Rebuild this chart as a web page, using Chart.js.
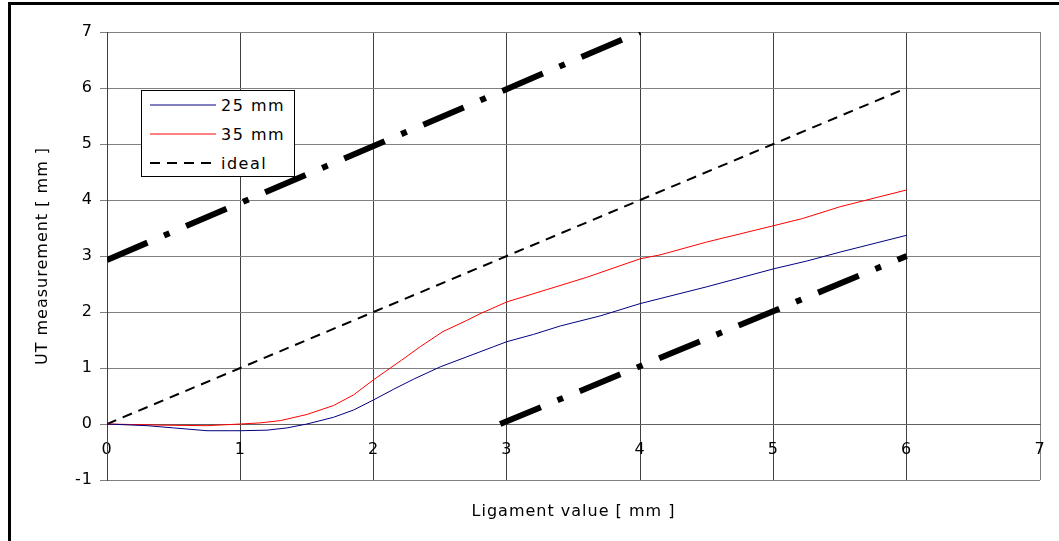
<!DOCTYPE html>
<html>
<head>
<meta charset="utf-8">
<script src="https://cdn.jsdelivr.net/npm/chart.js@4.4.0/dist/chart.umd.min.js"></script>
<style>
  html, body { margin: 0; padding: 0; background: #fff; }
  #wrap { position: relative; width: 1059px; height: 541px; overflow: hidden; }
  #frame { position: absolute; left: 8px; top: 2px; width: 1200px; height: 700px;
    border-left: 3px solid #000; border-top: 3px solid #000; pointer-events: none; }
  #legend { position: absolute; left: 141px; top: 90px; width: 152px; height: 85px;
    border: 1px solid #000; background: #fff; font: 16px "DejaVu Sans", sans-serif; color: #000;
    letter-spacing: 1.5px; }
  .row { position: absolute; left: 8px; height: 20px; display: flex; align-items: center; white-space: nowrap; }
  .row svg { margin-right: 5px; }
</style>
</head>
<body>
<div id="wrap">
  <canvas id="chart" width="1059" height="541"></canvas>
  <div id="frame"></div>
  <div id="legend"></div>
</div>
<script>
const x25 = [0, 0.3, 0.5, 0.75, 1.0, 1.2, 1.35, 1.5, 1.7, 1.85, 2.0, 2.15, 2.3, 2.5, 2.7, 2.9, 3.0, 3.2, 3.4, 3.7, 4.0, 4.15, 4.5, 5.0, 5.25, 5.5, 6.0];
const y25 = [0, -0.03, -0.07, -0.12, -0.12, -0.11, -0.07, 0.0, 0.12, 0.25, 0.43, 0.62, 0.8, 1.02, 1.2, 1.38, 1.47, 1.6, 1.75, 1.93, 2.15, 2.24, 2.45, 2.77, 2.91, 3.07, 3.37];

const x35 = [0, 0.4, 0.75, 1.0, 1.15, 1.3, 1.5, 1.7, 1.85, 2.0, 2.21, 2.35, 2.52, 2.7, 2.8, 3.0, 3.3, 3.6, 4.0, 4.15, 4.5, 5.0, 5.22, 5.5, 6.0];
const y35 = [0, -0.02, -0.03, 0.0, 0.02, 0.06, 0.17, 0.33, 0.52, 0.79, 1.14, 1.38, 1.65, 1.85, 1.97, 2.18, 2.4, 2.62, 2.95, 3.02, 3.25, 3.54, 3.67, 3.88, 4.18];

const xIdeal = [0, 1, 2, 3, 4, 5, 6];
const yIdeal = [0, 1, 2, 3, 4, 5, 6];

// the two tolerance lines (no legend entry)
const xUpper = [0, 4];
const yUpper = [2.93, 7];
const xLower = [2.95, 6];
const yLower = [0, 3];

const xMin = 0, xMax = 7;
const yMin = -1, yMax = 7;

const FONT = '"DejaVu Sans", sans-serif';

const pts = (xs, ys) => xs.map((x, i) => ({ x, y: ys[i] }));

// small html legend, only for datasets that carry a label
const htmlLegend = {
  id: 'htmlLegend',
  afterUpdate(chart) {
    const box = document.getElementById('legend');
    box.innerHTML = '';
    chart.data.datasets.filter((ds) => ds.label).forEach((ds, i) => {
      const row = document.createElement('div');
      row.className = 'row';
      row.style.top = (4 + i * 29) + 'px';
      const dash = (ds.borderDash || []).join(',');
      row.innerHTML = '<svg width="66" height="6"><line x1="0" y1="3" x2="66" y2="3" stroke="' + ds.borderColor
        + '" stroke-width="' + ds.borderWidth + '"' + (dash ? ' stroke-dasharray="' + dash + '"' : '') + '/></svg>'
        + '<span>' + ds.label + '</span>';
      box.appendChild(row);
    });
  },
};

// the original text is drawn a bit wider than DejaVu, spread it a little
const wideText = {
  id: 'wideText',
  beforeDraw(chart) { chart.ctx.letterSpacing = '1px'; },
};

new Chart(document.getElementById('chart'), {
  type: 'line',
  data: {
    datasets: [
      { label: '25 mm', data: pts(x25, y25), borderColor: '#000080', borderWidth: 1 },
      { label: '35 mm', data: pts(x35, y35), borderColor: '#ff0000', borderWidth: 1 },
      { label: 'ideal', data: pts(xIdeal, yIdeal), borderColor: '#000000', borderWidth: 2, borderDash: [10, 7] },
      { data: pts(xUpper, yUpper), borderColor: '#000000', borderWidth: 6, borderDash: [44, 18, 6, 18] },
      { data: pts(xLower, yLower), borderColor: '#000000', borderWidth: 6, borderDash: [44, 18, 6, 18] },
    ],
  },
  options: {
    responsive: false,
    animation: false,
    parsing: false,
    elements: { point: { radius: 0 }, line: { tension: 0, fill: false, borderCapStyle: 'butt' } },
    layout: { padding: { left: 0, top: 32, right: 19, bottom: 0 } },
    scales: {
      x: {
        type: 'linear',
        position: { y: 0 },
        min: xMin,
        max: xMax,
        ticks: { stepSize: 1, color: '#000', padding: 11, font: { family: FONT, size: 16 } },
        grid: {
          color: (c) => (c.tick && c.tick.value === xMax ? '#808080' : '#404040'),
          tickLength: 5,
        },
        border: { color: '#606060', width: 1 },
      },
      // carries only the x title, so it centres under the plot
      xTitle: {
        type: 'linear',
        axis: 'x',
        position: 'bottom',
        min: xMin,
        max: xMax,
        ticks: { display: false },
        grid: { display: false, drawTicks: false },
        border: { display: false },
        title: {
          display: true,
          text: 'Ligament value [ mm ]',
          color: '#000',
          font: { family: FONT, size: 16 },
          padding: { top: 21, bottom: 20 },
        },
        afterFit(scale) { scale.height = 61; },
      },
      y: {
        min: yMin,
        max: yMax,
        ticks: { stepSize: 1, color: '#000', padding: 7, font: { family: FONT, size: 16 } },
        grid: { color: '#808080', tickLength: 7 },
        border: { color: '#404040', width: 1 },
        title: {
          display: true,
          text: 'UT measurement [ mm ]',
          color: '#000',
          font: { family: FONT, size: 16 },
          padding: { top: 33, bottom: 0 },
        },
        afterFit(scale) { scale.width = 107; },
      },
    },
    plugins: {
      legend: { display: false },
      tooltip: { enabled: false },
    },
  },
  plugins: [htmlLegend, wideText],
});
</script>
</body>
</html>
